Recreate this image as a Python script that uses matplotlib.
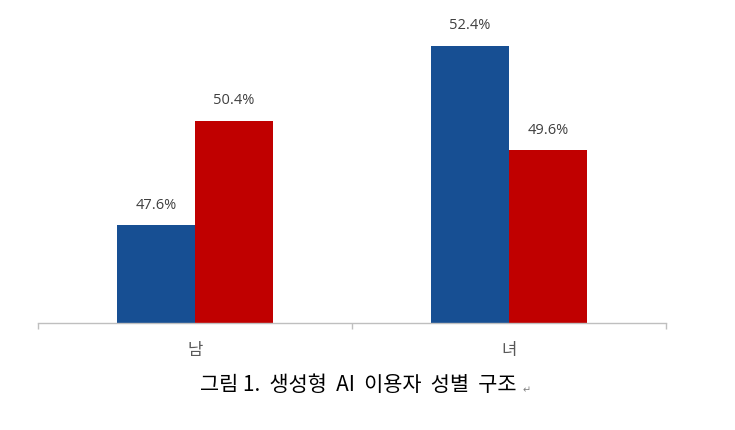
import matplotlib
matplotlib.use("Agg")
import matplotlib.pyplot as plt
import numpy as np

plt.rcParams['font.family'] = ['Noto Sans CJK KR', 'DejaVu Sans']

# data
categories = ["남", "녀"]
blue_vals = [47.6, 52.4]
red_vals = [50.4, 49.6]
caption = "그림 1.  생성형  AI  이용자  성별  구조"

blue = "#174F93"
red = "#C00000"

fig = plt.figure(figsize=(7.35, 4.30), dpi=100)
ax = fig.add_axes([38 / 735, (430 - 323) / 430, (666 - 38) / 735, 300 / 430])

x = np.arange(len(categories))
w = 0.248
b1 = ax.bar(x - w / 2, np.array(blue_vals) - 45, w, bottom=45, color=blue)
b2 = ax.bar(x + w / 2, np.array(red_vals) - 45, w, bottom=45, color=red)

for bars, vals in [(b1, blue_vals), (b2, red_vals)]:
    for rect, v in zip(bars, vals):
        ax.annotate(f"{v:.1f}%", (rect.get_x() + rect.get_width() / 2, v),
                    textcoords="offset points", xytext=(0, 9), ha="center",
                    va="bottom", fontsize=10.5, color="#404040",
                    family=['Open Sans'])

ax.set_xlim(-0.5, 1.5)
ax.set_ylim(45, 53)
for s in ["top", "right", "left"]:
    ax.spines[s].set_visible(False)
ax.spines["bottom"].set_color("#BFBFBF")
ax.spines["bottom"].set_linewidth(1.0)
ax.set_yticks([])
ax.set_xticks([-0.5, 0.5, 1.5])
ax.set_xticklabels([])
ax.tick_params(axis="x", direction="out", length=4, color="#BFBFBF", width=1.0)

# category labels below the axis
trans = matplotlib.transforms.blended_transform_factory(ax.transData, fig.transFigure)
for xi, c in zip(x, categories):
    ax.text(xi, 1 - 350 / 430, c, transform=trans,
            ha="center", va="center", fontsize=12, color="#595959")

# caption
fig.text(358 / 735, 1 - 385 / 430, caption, ha="center", va="center",
         fontsize=15, color="black")
fig.text(527 / 735, 1 - 390 / 430, "↵", ha="center", va="center",
         fontsize=7, color="#808080", family=['DejaVu Sans'])

fig.savefig("out.png", dpi=100)
